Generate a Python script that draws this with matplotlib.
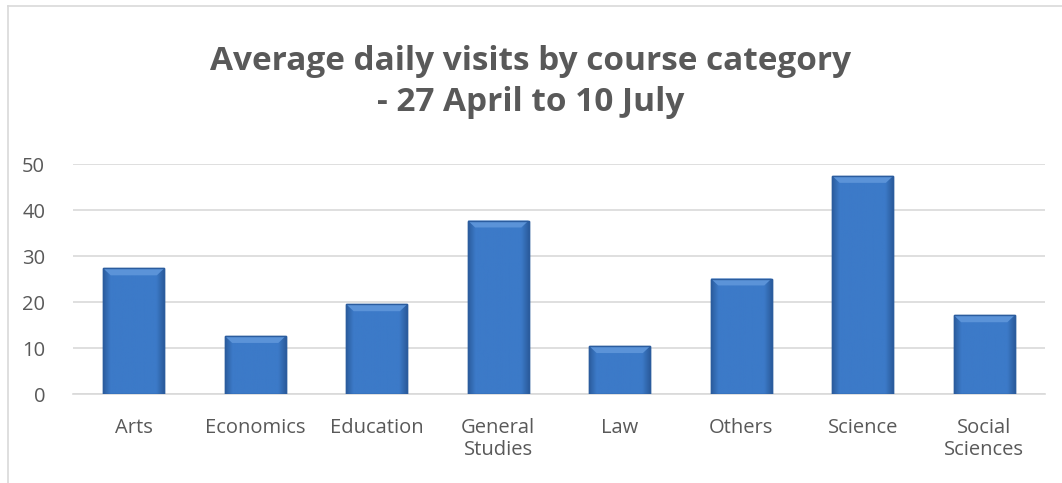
import matplotlib
matplotlib.use("Agg")
import matplotlib.pyplot as plt
import numpy as np
from matplotlib.patches import Rectangle

categories = ["Arts", "Economics", "Education", "General\nStudies", "Law", "Others", "Science", "Social\nSciences"]
values = [27.3, 12.6, 19.5, 37.7, 10.4, 25.1, 47.4, 17.1]
yticks = [0, 10, 20, 30, 40, 50]

plt.rcParams['font.family'] = ['Open Sans', 'DejaVu Sans']
fig = plt.figure(figsize=(10.62, 4.83), dpi=100)
ax = fig.add_axes([73/1062, 1-394/483, (1045-73)/1062, (394-164)/483])

x = np.arange(len(categories))
bars = ax.bar(x, values, width=0.5, color="#3a76c6", edgecolor="#2b5c9e", linewidth=1.0, zorder=3)

# gradient overlay to mimic bevel (subtle)
n = 64
t = np.linspace(0, 1, n)
edge = np.clip(1 - np.minimum(t, 1 - t) / 0.12, 0, 1)
img = np.zeros((2, n, 4))
base = np.array([0x3c, 0x7a, 0xc8]) / 255
dark = np.array([0x2c, 0x5e, 0xa0]) / 255
for i in range(n):
    img[:, i, :3] = base * (1 - edge[i]) + dark * edge[i]
    img[:, i, 3] = 1
for b in bars:
    x0, w, h = b.get_x(), b.get_width(), b.get_height()
    im = ax.imshow(img, extent=[x0, x0 + w, 0, h], aspect='auto', zorder=3.5)
    im.set_clip_path(b)
    bev = 1.5
    ax.fill([x0, x0 + w, x0 + w - 0.06, x0 + 0.06], [h, h, h - bev, h - bev],
            color="#5b93d8", zorder=4, lw=0)
    ax.add_patch(Rectangle((x0, 0), w, h, fill=False, edgecolor="#2b5c9e", lw=1.0, zorder=5))

ax.set_xlim(-0.5, len(categories) - 0.5)
ax.set_ylim(0, 50)
ax.set_yticks(yticks)
ax.yaxis.grid(True, color="#d9d9d9", linewidth=1.2, zorder=0)
ax.set_axisbelow(True)
for s in ["top", "right", "left"]:
    ax.spines[s].set_visible(False)
ax.spines["bottom"].set_color("#d9d9d9")
ax.spines["bottom"].set_linewidth(1.2)
ax.tick_params(axis="both", length=0, colors="#595959", labelsize=14.5)
ax.tick_params(axis="y", pad=20)
ax.tick_params(axis="x", pad=17)
ax.set_xticks(x)
ax.set_xticklabels(categories, linespacing=1.15)

fig.text(0.5, 1 - 82/483, "Average daily visits by course category\n- 27 April to 10 July",
         ha="center", va="center", fontsize=24, fontweight="bold", color="#595959", linespacing=1.3)

# chart border
fig.add_artist(plt.Line2D([8/1062, 1], [1 - 6/483] * 2, color="#d9d9d9", lw=1.2))
fig.add_artist(plt.Line2D([8/1062] * 2, [0, 1 - 6/483], color="#d9d9d9", lw=1.2))

fig.savefig("out.png", dpi=100, facecolor="white")
